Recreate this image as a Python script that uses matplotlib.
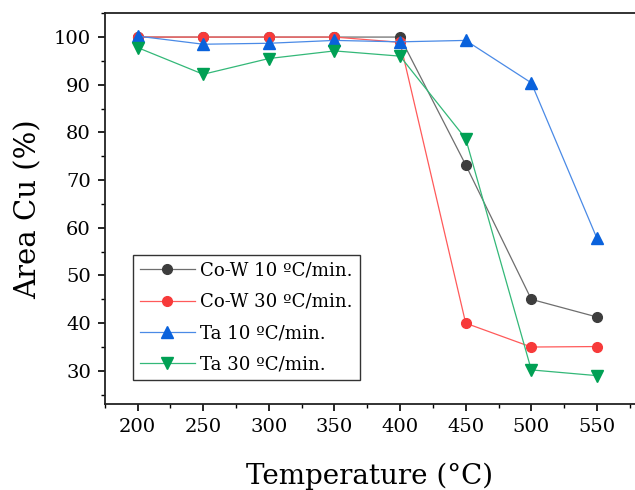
import matplotlib
matplotlib.use("Agg")
import matplotlib.pyplot as plt
from matplotlib.ticker import MultipleLocator

temps = [200, 250, 300, 350, 400, 450, 500, 550]
cow10 = [100.0, 100.0, 100.0, 100.0, 100.0, 73.2, 45.0, 41.3]
cow30 = [100.0, 100.0, 100.0, 100.0, 98.9, 40.0, 35.0, 35.1]
ta10 = [100.2, 98.5, 98.7, 99.3, 99.0, 99.3, 90.4, 57.8]
ta30 = [97.8, 92.2, 95.5, 97.1, 96.0, 78.7, 30.2, 29.0]
labels = ["Co-W 10 ºC/min.", "Co-W 30 ºC/min.", "Ta 10 ºC/min.", "Ta 30 ºC/min."]

plt.rcParams['font.family'] = ['DejaVu Serif']
fig = plt.figure(figsize=(6.35, 4.9), dpi=100)
ax = fig.add_axes([0.165, 0.175, 0.835, 0.798])

ax.plot(temps, cow10, color='#6e6e6e', lw=0.9, marker='o', ms=7,
        mfc='#3d3d3d', mec='#3d3d3d', label=labels[0])
ax.plot(temps, cow30, color='#ff5a5a', lw=0.9, marker='o', ms=7,
        mfc='#f73a3a', mec='#f73a3a', label=labels[1])
ax.plot(temps, ta10, color='#4a8ae6', lw=0.9, marker='^', ms=8,
        mfc='#0a62dc', mec='#0a62dc', label=labels[2])
ax.plot(temps, ta30, color='#33b878', lw=0.9, marker='v', ms=8,
        mfc='#00a054', mec='#00a054', label=labels[3])

ax.set_xlim(175, 579)
ax.set_ylim(23, 105)
ax.xaxis.set_minor_locator(MultipleLocator(25))
ax.yaxis.set_minor_locator(MultipleLocator(5))
ax.set_yticks(range(30, 101, 10))
ax.set_xticks(temps)
ax.tick_params(which='major', direction='out', length=5, width=1.2, labelsize=14, pad=5)
ax.tick_params(which='minor', direction='out', length=3, width=1.0)
ax.spines['right'].set_visible(False)
for s in ['left', 'bottom', 'top']:
    ax.spines[s].set_linewidth(1.3)
    ax.spines[s].set_color('#222222')

ax.set_xlabel("Temperature (°C)", fontsize=20, labelpad=19)
ax.set_ylabel("Area Cu (%)", fontsize=21, labelpad=8)

leg = ax.legend(loc='lower left', bbox_to_anchor=(0.053, 0.061), borderaxespad=0,
                fontsize=13.1, fancybox=False, edgecolor='#333333', framealpha=1,
                handlelength=3.0, handletextpad=0.3, labelspacing=0.72,
                borderpad=0.4)
leg.get_frame().set_linewidth(1.0)

fig.savefig("out.png", dpi=100)
